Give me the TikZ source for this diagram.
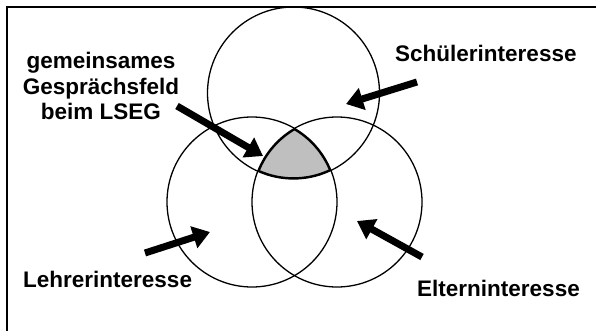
\documentclass[tikz,border=0pt]{standalone}
\usepackage{fontspec}
\setmainfont{Liberation Sans}
\usetikzlibrary{arrows.meta}
\tikzset{
  ring/.style={draw, circle, line width=1.3pt, minimum size=170pt, inner sep=0pt},
  label/.style={font=\fontsize{22.5}{25.5}\selectfont\bfseries, inner sep=0pt},
  pointer/.style={line width=7pt, -{Triangle[length=17pt,width=22pt]}}
}
\begin{document}
\begin{tikzpicture}[x=1pt,y=-1pt]
    \useasboundingbox (0,0) rectangle (596,331);
    \draw [line width=1.8pt] (7,7) rectangle (600,340);
    % overlap of the three fields
    \begin{scope}
      \clip (252,202) circle (85);
      \clip (337,202) circle (85);
      \clip (293.5,93) circle (86);
      \fill [black!25] (293.5,93) circle (86);
      \draw [line width=3.6pt] (293.5,93) circle (86);
      \draw [line width=3.6pt] (252,202) circle (85);
      \draw [line width=3.6pt] (337,202) circle (85);
    \end{scope}
    \path (293.5,93) node[ring, minimum size=172pt] (schueler) {};
    \path (252,202) node[ring] (lehrer) {};
    \path (337,202) node[ring] (eltern) {};
    \node[label, anchor=base west] (tS) at (395,62) {Schülerinteresse};
    \node[label, anchor=base west] (tL) at (23,287) {Lehrerinteresse};
    \node[label, anchor=base west] (tE) at (417,296) {Elterninteresse};
    \node[label, align=center, anchor=base] (tG) at (101,120) {gemeinsames\\Gesprächsfeld\\beim LSEG};
    \coordinate (sA) at (417,82);  \coordinate (sB) at (346,104);
    \coordinate (gA) at (177,106); \coordinate (gB) at (263,156);
    \coordinate (lA) at (145,253); \coordinate (lB) at (210,232);
    \coordinate (eA) at (422,257); \coordinate (eB) at (357,221);
    \draw [pointer] (sA) -- (sB);
    \draw [pointer] (gA) -- (gB);
    \draw [pointer] (lA) -- (lB);
    \draw [pointer] (eA) -- (eB);
\end{tikzpicture}
\end{document}
